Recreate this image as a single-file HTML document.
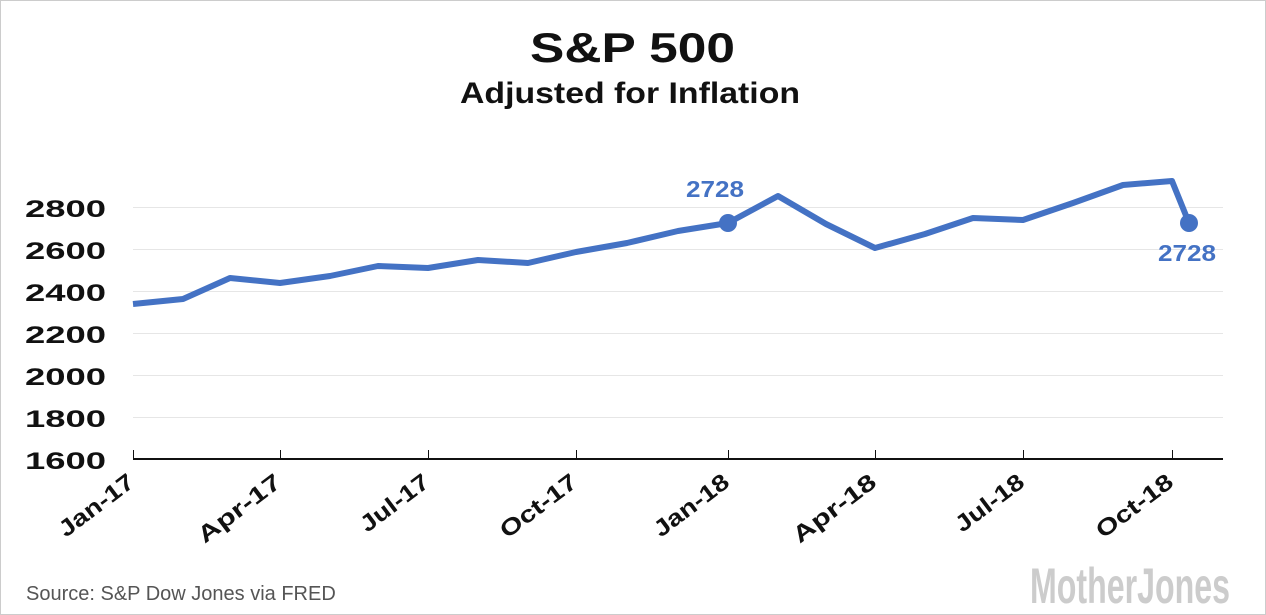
<!DOCTYPE html>
<html><head><style>
body{margin:0;background:#fff}
svg{display:block}
text{font-family:"Liberation Sans",sans-serif}
</style></head><body>
<svg width="1266" height="615" viewBox="0 0 1266 615" xmlns="http://www.w3.org/2000/svg">
<rect x="0.5" y="0.5" width="1265" height="614" fill="#fff" stroke="#ccc"/>
<text x="530" y="62" font-size="42" font-weight="bold" fill="#111" textLength="205" lengthAdjust="spacingAndGlyphs">S&amp;P 500</text>
<text x="460" y="103" font-size="30" font-weight="bold" fill="#111" textLength="340" lengthAdjust="spacingAndGlyphs">Adjusted for Inflation</text>
<g stroke="#e6e6e6" stroke-width="1">
<line x1="133" x2="1223" y1="207.5" y2="207.5"/>
<line x1="133" x2="1223" y1="249.5" y2="249.5"/>
<line x1="133" x2="1223" y1="291.5" y2="291.5"/>
<line x1="133" x2="1223" y1="333.5" y2="333.5"/>
<line x1="133" x2="1223" y1="375.5" y2="375.5"/>
<line x1="133" x2="1223" y1="417.5" y2="417.5"/>
</g>
<g font-size="24" font-weight="bold" fill="#111">
<text x="25" y="217" textLength="81" lengthAdjust="spacingAndGlyphs">2800</text>
<text x="25" y="259" textLength="81" lengthAdjust="spacingAndGlyphs">2600</text>
<text x="25" y="301" textLength="81" lengthAdjust="spacingAndGlyphs">2400</text>
<text x="25" y="343" textLength="81" lengthAdjust="spacingAndGlyphs">2200</text>
<text x="25" y="385" textLength="81" lengthAdjust="spacingAndGlyphs">2000</text>
<text x="25" y="427" textLength="81" lengthAdjust="spacingAndGlyphs">1800</text>
<text x="25" y="469" textLength="81" lengthAdjust="spacingAndGlyphs">1600</text>
</g>
<g stroke="#111" fill="none">
<line x1="133" x2="1223" y1="459" y2="459" stroke-width="2"/>
<path stroke-width="1" d="M133.5 450V459M280.5 450V459M428.5 450V459M576.5 450V459M728.5 450V459M875.5 450V459M1023.5 450V459M1172.5 450V459"/>
</g>
<g font-size="23" font-weight="bold" fill="#111" text-anchor="end">
<text transform="translate(136,485) rotate(-37)" textLength="88" lengthAdjust="spacingAndGlyphs">Jan-17</text>
<text transform="translate(283,485) rotate(-37)" textLength="98" lengthAdjust="spacingAndGlyphs">Apr-17</text>
<text transform="translate(431,485) rotate(-37)" textLength="80" lengthAdjust="spacingAndGlyphs">Jul-17</text>
<text transform="translate(579,485) rotate(-37)" textLength="90" lengthAdjust="spacingAndGlyphs">Oct-17</text>
<text transform="translate(731,485) rotate(-37)" textLength="88" lengthAdjust="spacingAndGlyphs">Jan-18</text>
<text transform="translate(878,485) rotate(-37)" textLength="98" lengthAdjust="spacingAndGlyphs">Apr-18</text>
<text transform="translate(1026,485) rotate(-37)" textLength="80" lengthAdjust="spacingAndGlyphs">Jul-18</text>
<text transform="translate(1175,485) rotate(-37)" textLength="90" lengthAdjust="spacingAndGlyphs">Oct-18</text>
</g>
<polyline fill="none" stroke="#4472c4" stroke-width="6" stroke-linejoin="round" points="133,304 183,299 230,278 280,283 330,276 378,266 428,268 478,260 528,263 576,252 627,243 678,231 728,223 778,196 826,224 875,248 925,234 973,218 1023,220 1073,203 1123,185 1172,181 1189,223"/>
<circle cx="728" cy="223" r="9" fill="#4472c4"/>
<circle cx="1189" cy="223" r="9" fill="#4472c4"/>
<g font-size="23" font-weight="bold" fill="#4472c4">
<text x="686" y="197" textLength="58" lengthAdjust="spacingAndGlyphs">2728</text>
<text x="1158" y="261" textLength="58" lengthAdjust="spacingAndGlyphs">2728</text>
</g>
<text x="26" y="600" font-size="20" fill="#555" font-family="DejaVu Sans, sans-serif">Source: S&amp;P Dow Jones via FRED</text>
<text x="1030" y="603" font-size="50" font-weight="bold" fill="#ccc" textLength="200" lengthAdjust="spacingAndGlyphs">MotherJones</text>
</svg>
</body></html>
